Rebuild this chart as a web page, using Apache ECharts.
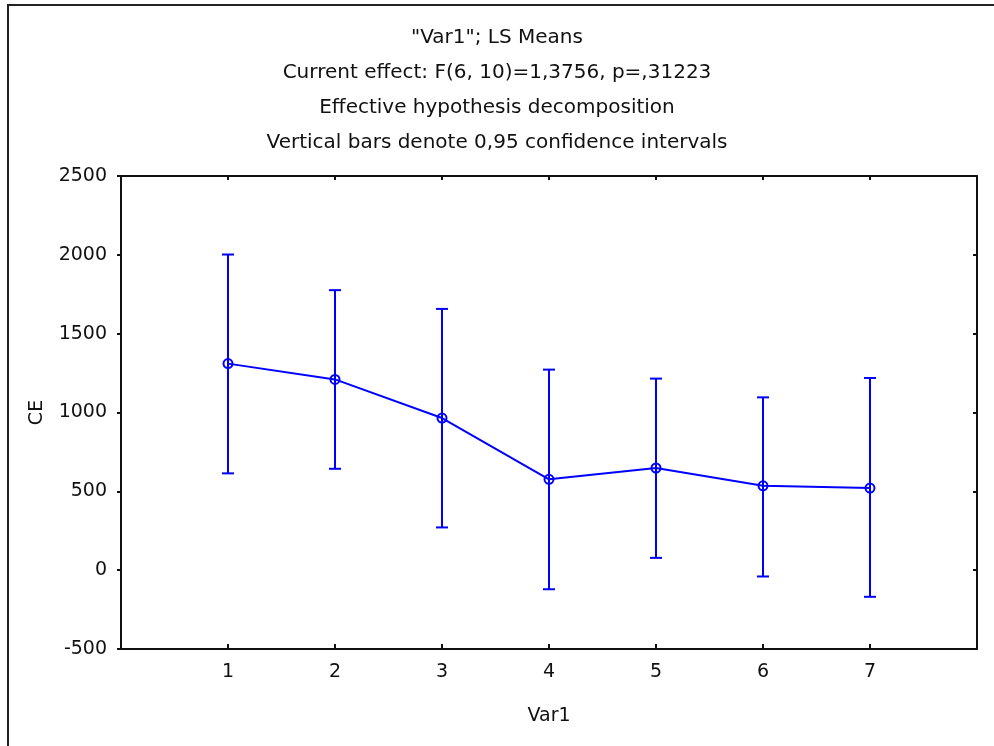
<!DOCTYPE html>
<html>
<head>
<meta charset="utf-8">
<title>Var1 LS Means</title>
<script src="https://cdn.jsdelivr.net/npm/echarts@6/dist/echarts.min.js"></script>
<style>
  html, body { margin: 0; padding: 0; background: #fff; }
  #chart { width: 994px; height: 746px; }
</style>
</head>
<body>
<div id="chart"></div>
<script>
// Var1 levels
var levels = [1, 2, 3, 4, 5, 6, 7];
// LS means of CE
var means = [1310, 1210, 965, 576, 648, 535, 521];
// 0,95 confidence limits
var lower = [614, 643, 271, -121, 78, -40, -169];
var upper = [2002, 1776, 1657, 1272, 1215, 1096, 1219];
// y ticks
var yMin = -500, yMax = 2500, yStep = 500;

var titleLines = [
  '"Var1"; LS Means',
  'Current effect: F(6, 10)=1,3756, p=,31223',
  'Effective hypothesis decomposition',
  'Vertical bars denote 0,95 confidence intervals'
];

var blue = "#0000ff";
var font = "DejaVu Sans, Verdana, sans-serif";

var myChart = echarts.init(document.getElementById("chart"));

var meanData = levels.map(function (x, i) {
  return [x, means[i]];
});
var barData = levels.map(function (x, i) {
  return [x, lower[i], upper[i]];
});

var option = {
  backgroundColor: "#fff",
  animation: false,
  title: titleLines.map(function (t, i) {
    return {
      text: t,
      left: "center",
      top: 23 + i * 35,
      textStyle: { fontFamily: font, fontSize: 20, fontWeight: "normal", color: "#111" },
    };
  }),
  graphic: [
    {
      type: "rect",
      shape: { x: 8, y: 5, width: 1000, height: 800 },
      style: { fill: "none", stroke: "#222", lineWidth: 2 },
      silent: true,
    },
  ],
  grid: {
    left: 121,
    right: 17,
    top: 176,
    bottom: 97,
  },
  xAxis: [
    {
      type: "value",
      min: 0,
      max: 8,
      interval: 1,
      name: "Var1",
      nameLocation: "middle",
      nameGap: 58,
      nameTextStyle: { fontFamily: font, fontSize: 19, color: "#111" },
      axisLine: { onZero: false, lineStyle: { color: "#111", width: 2 } },
      axisTick: { inside: true, length: 5, lineStyle: { color: "#111", width: 2 } },
      axisLabel: {
        margin: 14,
        fontFamily: font,
        fontSize: 19,
        color: "#111",
        formatter: function (v) {
          return levels.indexOf(v) >= 0 ? String(v) : "";
        },
      },
      splitLine: { show: false },
    },
    {
      type: "value",
      position: "top",
      min: 0,
      max: 8,
      interval: 1,
      axisLine: { onZero: false, lineStyle: { color: "#111", width: 2 } },
      axisTick: { inside: true, length: 4, lineStyle: { color: "#111", width: 2 } },
      axisLabel: { show: false },
      splitLine: { show: false },
    },
  ],
  yAxis: [
    {
      type: "value",
      min: yMin,
      max: yMax,
      interval: yStep,
      name: "CE",
      nameLocation: "middle",
      nameGap: 74,
      nameTextStyle: { fontFamily: font, fontSize: 19, color: "#111" },
      axisLine: { show: true, onZero: false, lineStyle: { color: "#111", width: 2 } },
      axisTick: { show: true, length: 4, lineStyle: { color: "#111", width: 2 } },
      axisLabel: {
        margin: 14,
        fontFamily: font,
        fontSize: 19,
        color: "#111",
        formatter: function (v) {
          return String(v);
        },
      },
      splitLine: { show: false },
    },
    {
      type: "value",
      position: "right",
      min: yMin,
      max: yMax,
      interval: yStep,
      axisLine: { show: true, onZero: false, lineStyle: { color: "#111", width: 2 } },
      axisTick: { show: true, inside: true, length: 4, lineStyle: { color: "#111", width: 2 } },
      axisLabel: { show: false },
      splitLine: { show: false },
    },
  ],
  series: [
    {
      // confidence interval bars
      type: "custom",
      xAxisIndex: 0,
      yAxisIndex: 0,
      data: barData,
      encode: { x: 0, y: [1, 2] },
      z: 2,
      renderItem: function (params, api) {
        var x = api.value(0);
        var lo = api.coord([x, api.value(1)]);
        var hi = api.coord([x, api.value(2)]);
        var half = 6;
        var st = { stroke: blue, lineWidth: 2 };
        return {
          type: "group",
          children: [
            { type: "line", shape: { x1: lo[0], y1: lo[1], x2: hi[0], y2: hi[1] }, style: st },
            { type: "line", shape: { x1: hi[0] - half, y1: hi[1], x2: hi[0] + half, y2: hi[1] }, style: st },
            { type: "line", shape: { x1: lo[0] - half, y1: lo[1], x2: lo[0] + half, y2: lo[1] }, style: st },
          ],
        };
      },
    },
    {
      // means
      type: "line",
      xAxisIndex: 0,
      yAxisIndex: 0,
      data: meanData,
      z: 3,
      symbol: "circle",
      symbolSize: 9,
      showAllSymbol: true,
      lineStyle: { color: blue, width: 2 },
      itemStyle: { color: "rgba(0,0,0,0)", borderColor: blue, borderWidth: 2 },
    },
  ],
};

myChart.setOption(option);
</script>
</body>
</html>
